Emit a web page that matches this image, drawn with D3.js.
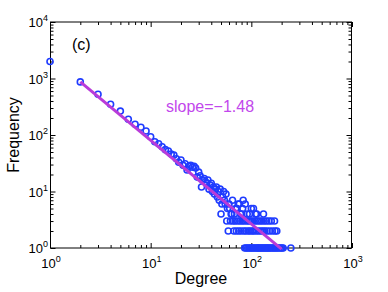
<!DOCTYPE html>
<html>
<head>
<meta charset="utf-8">
<script src="https://cdn.jsdelivr.net/npm/d3@7"></script>
<style>
  body { margin: 0; background: #fff; }
  text { font-family: "Liberation Sans", Arial, Helvetica, sans-serif; }
</style>
</head>
<body>
<div id="chart"></div>
<script>
// ---------Degree distribution----------

// Data: degree and how many nodes have it
const degrees = [
  1, 2, 3, 4, 5, 6, 7, 8, 9, 10, 11, 12, 13, 14, 15, 16, 17, 18, 19, 20,
  21, 22, 23, 24, 25, 26, 27, 28, 29, 30, 31, 32, 33, 34, 35, 36, 37, 38, 39, 40,
  41, 42, 43, 44, 45, 46, 47, 48, 49, 50, 51, 52, 53, 54, 55, 56, 57, 58, 59, 60,
  61, 62, 63, 64, 65, 66, 67, 68, 69, 70, 71, 72, 73, 74, 75, 76, 77, 78, 79, 80,
  81, 82, 83, 84, 85, 86, 87, 88, 89, 90, 91, 92, 93, 94, 95, 96, 97, 98, 99, 100,
  101, 102, 103, 104, 105, 106, 107, 109, 110, 111, 112, 113, 114, 115, 117, 118, 119, 121, 123, 124,
  126, 127, 129, 130, 132, 133, 134, 136, 137, 140, 141, 143, 144, 148, 149, 151, 152, 156, 158, 161,
  162, 166, 170, 171, 172, 176, 179, 182, 188, 195, 201, 207, 247
];
const counts = [
  2000, 870, 525, 350, 265, 190, 155, 137, 118, 93, 76, 70, 62, 55, 52, 46, 44, 38, 33, 36,
  29, 31, 24, 28, 29, 27, 28, 26, 18, 22, 19, 12, 16, 17, 15, 14, 16, 11, 13, 14,
  10, 12, 9, 11, 12, 8, 10, 7, 11, 4, 6, 8, 10, 7, 6, 9, 3, 5, 2, 6,
  5, 3, 4, 4, 7, 3, 2, 4, 3, 5, 2, 5, 3, 6, 2, 6, 3, 4, 2, 4,
  3, 5, 7, 2, 3, 1, 6, 2, 1, 3, 4, 1, 2, 3, 1, 4, 2, 1, 3, 5,
  1, 2, 3, 1, 5, 2, 1, 3, 4, 1, 2, 4, 1, 3, 1, 2, 1, 3, 1, 2,
  1, 3, 1, 2, 4, 1, 3, 2, 1, 1, 3, 2, 1, 1, 3, 1, 2, 1, 3, 1,
  2, 1, 3, 1, 2, 1, 2, 1, 1, 1, 1, 1, 1
];

// Power-law fit
const fitSlope = -1.48;
const fitFrom = 2;
const fitTo = 200;
const fitAtFrom = 870;

const xTicks = [1, 10, 100, 1000];
const yTicks = [1, 10, 100, 1000, 10000];

// Dimensions
const width = 388;
const height = 292;
const margin = { top: 22, right: 36, bottom: 44, left: 50 };

const svg = d3.select("#chart")
  .append("svg")
  .attr("width", width)
  .attr("height", height);

// Scales
const x = d3.scaleLog()
  .domain([1, 1000])
  .range([margin.left, width - margin.right]);

const y = d3.scaleLog()
  .domain([1, 10000])
  .range([height - margin.bottom, margin.top]);

const x0 = x.range()[0], x1 = x.range()[1];
const y0 = y.range()[0], y1 = y.range()[1];

// minor tick values (2..9 per decade)
const minorOf = ticks => {
  const out = [];
  ticks.slice(0, -1).forEach(t => {
    for (let k = 2; k <= 9; k++) out.push(t * k);
  });
  return out;
};

// ticks on all four sides, pointing in
const tickGroup = (axis, tx, ty) => {
  const g = svg.append("g")
    .attr("transform", `translate(${tx},${ty})`)
    .call(axis);
  g.select(".domain").remove();
  g.selectAll("text").remove();
  g.selectAll("line").attr("stroke", "#000").attr("stroke-width", 1);
  return g;
};

tickGroup(d3.axisBottom(x).tickValues(xTicks).tickSize(-5).tickSizeOuter(0), 0, y0);
tickGroup(d3.axisBottom(x).tickValues(minorOf(xTicks)).tickSize(-3).tickSizeOuter(0), 0, y0);
tickGroup(d3.axisTop(x).tickValues(xTicks).tickSize(-5).tickSizeOuter(0), 0, y1);
tickGroup(d3.axisTop(x).tickValues(minorOf(xTicks)).tickSize(-3).tickSizeOuter(0), 0, y1);
tickGroup(d3.axisLeft(y).tickValues(yTicks).tickSize(-5).tickSizeOuter(0), x0 + 0.5, 0);
tickGroup(d3.axisLeft(y).tickValues(minorOf(yTicks)).tickSize(-3).tickSizeOuter(0), x0 + 0.5, 0);
tickGroup(d3.axisRight(y).tickValues(yTicks).tickSize(-5).tickSizeOuter(0), x1 - 0.5, 0);
tickGroup(d3.axisRight(y).tickValues(minorOf(yTicks)).tickSize(-3).tickSizeOuter(0), x1 - 0.5, 0);

// box
svg.append("line").attr("x1", x0).attr("x2", x1).attr("y1", y0).attr("y2", y0)
  .attr("stroke", "#000").attr("stroke-width", 1);
svg.append("line").attr("x1", x0).attr("x2", x1).attr("y1", y1).attr("y2", y1)
  .attr("stroke", "#000").attr("stroke-width", 1);
svg.append("line").attr("x1", x0 + 0.5).attr("x2", x0 + 0.5).attr("y1", y1).attr("y2", y0)
  .attr("stroke", "#000").attr("stroke-width", 1);
svg.append("line").attr("x1", x1 - 0.5).attr("x2", x1 - 0.5).attr("y1", y1).attr("y2", y0)
  .attr("stroke", "#000").attr("stroke-width", 1);

// tick labels as 10^n
const powerLabel = (sel, v) => {
  sel.append("tspan").text("10");
  sel.append("tspan")
    .attr("dy", -6)
    .style("font-size", "9px")
    .text(Math.round(Math.log10(v)));
};

xTicks.forEach(v => {
  svg.append("text")
    .attr("x", x(v) + 1)
    .attr("y", y0 + 20)
    .attr("text-anchor", "middle")
    .style("font-size", "13px")
    .call(powerLabel, v);
});

yTicks.forEach(v => {
  svg.append("text")
    .attr("x", x0 - 2)
    .attr("y", y(v) + 5)
    .attr("text-anchor", "end")
    .style("font-size", "13px")
    .call(powerLabel, v);
});

// axis titles
svg.append("text")
  .attr("x", (x0 + x1) / 2)
  .attr("y", 284)
  .attr("text-anchor", "middle")
  .style("font-size", "16px")
  .text("Degree");

svg.append("text")
  .attr("transform", `translate(19, ${(y0 + y1) / 2}) rotate(-90)`)
  .attr("text-anchor", "middle")
  .style("font-size", "16px")
  .text("Frequency");

// points
const points = degrees.map((d, i) => ({ degree: d, count: counts[i] }));

svg.selectAll("circle")
  .data(points)
  .enter()
  .append("circle")
  .attr("cx", d => x(d.degree))
  .attr("cy", d => y(d.count))
  .attr("r", 3)
  .attr("fill", "none")
  .attr("stroke", "#1f3cff")
  .attr("stroke-width", 1.6);

// fit line
const fitLine = [fitFrom, fitTo].map(d => ({
  degree: d,
  count: fitAtFrom * Math.pow(d / fitFrom, fitSlope)
}));

svg.append("path")
  .datum(fitLine)
  .attr("d", d3.line().x(d => x(d.degree)).y(d => y(d.count)))
  .attr("fill", "none")
  .attr("stroke", "#b93bd9")
  .attr("stroke-width", 3);

// annotations
svg.append("text")
  .attr("x", 72)
  .attr("y", 50)
  .style("font-size", "16px")
  .text("(c)");

svg.append("text")
  .attr("x", 166)
  .attr("y", 112)
  .style("font-size", "16px")
  .style("fill", "#c247ec")
  .text("slope=\u22121.48");
</script>
</body>
</html>
